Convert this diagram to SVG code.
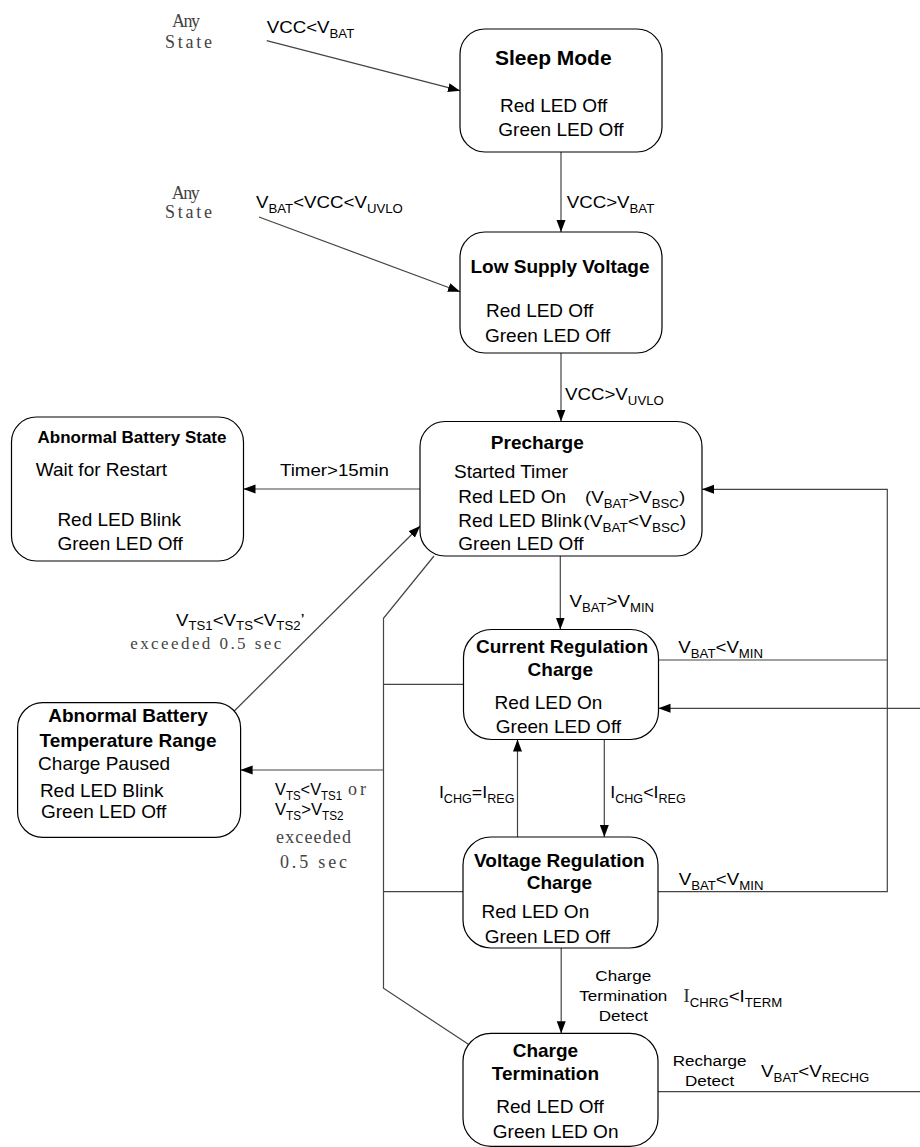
<svg xmlns="http://www.w3.org/2000/svg" width="920" height="1147" viewBox="0 0 920 1147">
<style>
.box{fill:#fff;stroke:#000;stroke-width:1.2}
.t{font-family:"Liberation Sans",Arial,sans-serif;font-size:19px;fill:#000}
.b{font-weight:bold;text-anchor:middle}
.l{font-family:"Liberation Sans",Arial,sans-serif;font-size:17px;fill:#000}
.c{text-anchor:middle}
.s{font-size:12px}
.m{font-family:"Liberation Serif","Times New Roman",serif;font-size:18px;fill:#444}
.e{fill:none;stroke:#444;stroke-width:1.2}
</style>
<defs>
<marker id="ah" markerWidth="12" markerHeight="10" refX="12" refY="4.5" orient="auto" markerUnits="userSpaceOnUse">
<path d="M0,0 L12,4.5 L0,9 z" fill="#000"/>
</marker>
</defs>
<rect width="920" height="1147" fill="#fff"/>

<g id="connectors">
<path class="e" d="M266.7,40.7 L460,90.7" marker-end="url(#ah)"/>
<path class="e" d="M259,217 L460,291.7" marker-end="url(#ah)"/>
<path class="e" d="M561,152 V232" marker-end="url(#ah)"/>
<path class="e" d="M561,353 V421.5" marker-end="url(#ah)"/>
<path class="e" d="M420,489 H243.5" marker-end="url(#ah)"/>
<path class="e" d="M560.3,556 V629.5" marker-end="url(#ah)"/>
<path class="e" d="M658.5,660 H887.3"/>
<path class="e" d="M658,891.7 H887.3 V489.3 H702" marker-end="url(#ah)"/>
<path class="e" d="M920,708.3 H658.5" marker-end="url(#ah)"/>
<path class="e" d="M604.3,739.5 V837" marker-end="url(#ah)"/>
<path class="e" d="M517.5,837 V739.5" marker-end="url(#ah)"/>
<path class="e" d="M561.2,948 V1033.3" marker-end="url(#ah)"/>
<path class="e" d="M657.7,1091.7 H920"/>
<path class="e" d="M434,556 L383.5,618.3 V988.3 L474.5,1048.3"/>
<path class="e" d="M383.5,684.3 H463.5"/>
<path class="e" d="M383.5,891.7 H463"/>
<path class="e" d="M383.5,770 H240.6" marker-end="url(#ah)"/>
<path class="e" d="M233.5,711.7 L420.2,526" marker-end="url(#ah)"/>
</g>

<g id="sleep-mode">
<rect class="box" x="460" y="29" width="202" height="123" rx="25"/>
<text class="t b" x="553.3" y="65" style="font-size:21px">Sleep Mode</text>
<text class="t" x="500" y="112">Red LED Off</text>
<text class="t" x="498.3" y="136">Green LED Off</text>
</g>

<g id="low-supply">
<rect class="box" x="460" y="232" width="202" height="121" rx="25"/>
<text class="t b" x="560" y="273">Low Supply Voltage</text>
<text class="t" x="486" y="317">Red LED Off</text>
<text class="t" x="485" y="341.7">Green LED Off</text>
</g>

<g id="precharge">
<rect class="box" x="420" y="421.5" width="282" height="134.5" rx="25"/>
<text class="t b" x="537.3" y="449">Precharge</text>
<text class="t" x="454" y="477.5">Started Timer</text>
<text class="t" x="458.3" y="502.5">Red LED On</text>
<text class="l" transform="translate(585,502.5) scale(1.1,1)">(V<tspan class="s" dy="5">BAT</tspan><tspan dy="-5">&gt;V</tspan><tspan class="s" dy="5">BSC</tspan><tspan dy="-5">)</tspan></text>
<text class="t" x="458.3" y="526.5">Red LED Blink</text>
<text class="l" transform="translate(583.3,526.5) scale(1.13,1)">(V<tspan class="s" dy="5">BAT</tspan><tspan dy="-5">&lt;V</tspan><tspan class="s" dy="5">BSC</tspan><tspan dy="-5">)</tspan></text>
<text class="t" x="458.3" y="550">Green LED Off</text>
</g>

<g id="abnormal-state">
<rect class="box" x="11.5" y="417" width="232" height="144" rx="25"/>
<text class="t b" x="132" y="443.3" style="font-size:17px">Abnormal Battery State</text>
<text class="t" x="35.8" y="475.7">Wait for Restart</text>
<text class="t" x="57.4" y="526">Red LED Blink</text>
<text class="t" x="57.4" y="550">Green LED Off</text>
</g>

<g id="current-regulation">
<rect class="box" x="463.5" y="629.5" width="195" height="110" rx="28"/>
<text class="t b" x="562" y="653.3">Current Regulation</text>
<text class="t b" x="560.3" y="676">Charge</text>
<text class="t" x="494.6" y="709.3">Red LED On</text>
<text class="t" x="495.8" y="732.7">Green LED Off</text>
</g>

<g id="voltage-regulation">
<rect class="box" x="463" y="837" width="195" height="111" rx="28"/>
<text class="t b" x="559.4" y="866.7">Voltage Regulation</text>
<text class="t b" x="559.4" y="889.3">Charge</text>
<text class="t" x="481.5" y="918.3">Red LED On</text>
<text class="t" x="484.7" y="942.7">Green LED Off</text>
</g>

<g id="charge-termination">
<rect class="box" x="463" y="1033.3" width="195" height="113" rx="28"/>
<text class="t b" x="545.4" y="1056.7">Charge</text>
<text class="t b" x="545.4" y="1080">Termination</text>
<text class="t" x="496.3" y="1113.3">Red LED Off</text>
<text class="t" x="492.8" y="1138.3">Green LED On</text>
</g>

<g id="abnormal-temperature">
<rect class="box" x="17.6" y="702.7" width="223" height="134.6" rx="25"/>
<text class="t b" x="128" y="721.7">Abnormal Battery</text>
<text class="t b" x="128" y="746.7">Temperature Range</text>
<text class="t" x="38.1" y="770">Charge Paused</text>
<text class="t" x="39.9" y="796.7">Red LED Blink</text>
<text class="t" x="41" y="818.3">Green LED Off</text>
</g>

<g id="labels">
<text class="m" x="172" y="27.3" textLength="28" lengthAdjust="spacing">Any</text>
<text class="m" x="165" y="48" textLength="47" lengthAdjust="spacing">State</text>
<text class="m" x="171.7" y="199" textLength="28" lengthAdjust="spacing">Any</text>
<text class="m" x="165" y="218" textLength="47" lengthAdjust="spacing">State</text>
<text class="l" transform="translate(266.7,33.3) scale(1.1,1)">VCC&lt;V<tspan class="s" dy="5">BAT</tspan></text>
<text class="l" transform="translate(566.7,208) scale(1.1,1)">VCC&gt;V<tspan class="s" dy="5">BAT</tspan></text>
<text class="l" transform="translate(256,208) scale(1.1,1)">V<tspan class="s" dy="5">BAT</tspan><tspan dy="-5">&lt;VCC&lt;V</tspan><tspan class="s" dy="5">UVLO</tspan></text>
<text class="l" transform="translate(565,400) scale(1.1,1)">VCC&gt;V<tspan class="s" dy="5">UVLO</tspan></text>
<text class="l" transform="translate(280,475.7) scale(1.1,1)">Timer&gt;15min</text>
<text class="l" transform="translate(569.4,606.7) scale(1.1,1)">V<tspan class="s" dy="5">BAT</tspan><tspan dy="-5">&gt;V</tspan><tspan class="s" dy="5">MIN</tspan></text>
<text class="l" transform="translate(678.3,653.3) scale(1.1,1)">V<tspan class="s" dy="5">BAT</tspan><tspan dy="-5">&lt;V</tspan><tspan class="s" dy="5">MIN</tspan></text>
<text class="l" transform="translate(678.7,885) scale(1.1,1)">V<tspan class="s" dy="5">BAT</tspan><tspan dy="-5">&lt;V</tspan><tspan class="s" dy="5">MIN</tspan></text>
<text class="l" transform="translate(438.9,798.3) scale(1.05,1)">I<tspan class="s" dy="5">CHG</tspan><tspan dy="-5">=I</tspan><tspan class="s" dy="5">REG</tspan></text>
<text class="l" transform="translate(610.2,798.3) scale(1.05,1)">I<tspan class="s" dy="5">CHG</tspan><tspan dy="-5">&lt;I</tspan><tspan class="s" dy="5">REG</tspan></text>
<text class="l c" style="font-size:15.5px" transform="translate(623.3,981) scale(1.1,1)">Charge</text>
<text class="l c" style="font-size:15.5px" transform="translate(623.3,1000.7) scale(1.1,1)">Termination</text>
<text class="l c" style="font-size:15.5px" transform="translate(623.3,1021) scale(1.1,1)">Detect</text>
<text class="l" transform="translate(683.2,1001.7) scale(1.1,1)"><tspan style="font-family:'Liberation Serif',serif;font-size:18px;fill:#333">I</tspan><tspan class="s" dy="5">CHRG</tspan><tspan dy="-5">&lt;I</tspan><tspan class="s" dy="5">TERM</tspan></text>
<text class="l c" style="font-size:15.5px" transform="translate(709.6,1066) scale(1.1,1)">Recharge</text>
<text class="l c" style="font-size:15.5px" transform="translate(709.6,1085.7) scale(1.1,1)">Detect</text>
<text class="l" transform="translate(761.1,1077.3) scale(1.1,1)">V<tspan class="s" dy="5">BAT</tspan><tspan dy="-5">&lt;V</tspan><tspan class="s" dy="5">RECHG</tspan></text>
<text class="l" transform="translate(176,626) scale(1.1,1)">V<tspan class="s" dy="4">TS1</tspan><tspan dy="-4">&lt;V</tspan><tspan class="s" dy="4">TS</tspan><tspan dy="-4">&lt;V</tspan><tspan class="s" dy="4">TS2</tspan><tspan dy="-4">’</tspan></text>
<text class="m" x="130.2" y="649" style="font-size:17px" textLength="151" lengthAdjust="spacing">exceeded 0.5 sec</text>
<text class="l" transform="translate(275,795) scale(0.96,1)">V<tspan class="s" dy="5">TS</tspan><tspan dy="-5">&lt;V</tspan><tspan class="s" dy="5">TS1</tspan></text>
<text class="m" x="348" y="795" textLength="18" lengthAdjust="spacing">or</text>
<text class="l" transform="translate(275,815) scale(0.98,1)">V<tspan class="s" dy="5">TS</tspan><tspan dy="-5">&gt;V</tspan><tspan class="s" dy="5">TS2</tspan></text>
<text class="m" x="276" y="842.7" textLength="75" lengthAdjust="spacing">exceeded</text>
<text class="m" x="280" y="867.7" textLength="67" lengthAdjust="spacing">0.5 sec</text>
</g>
</svg>
